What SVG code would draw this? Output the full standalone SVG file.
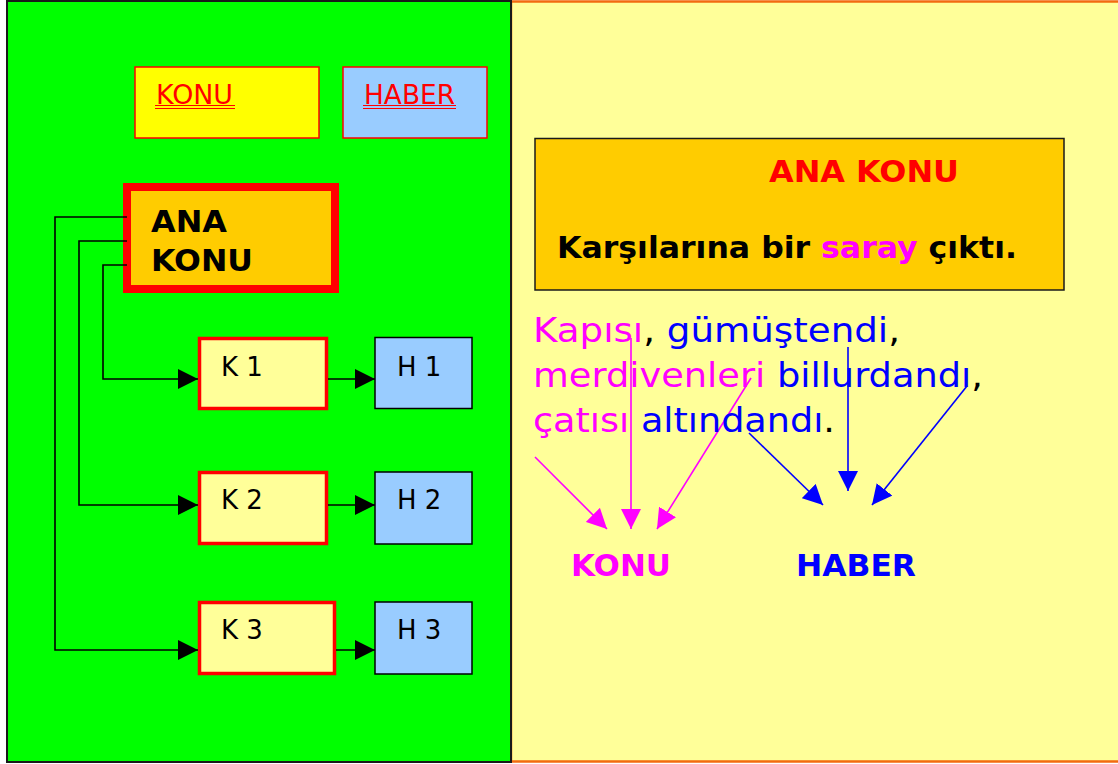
<svg xmlns="http://www.w3.org/2000/svg" width="1118" height="764" viewBox="0 0 1118 764">
<style>
.sans{font-family:"DejaVu Sans","Verdana",sans-serif}
.b{font-weight:bold}
.lbl{font-size:26px;fill:#000}
.red{fill:#FF0000}
.mag{fill:#FF00FF}
.blu{fill:#0000FF}
.blk{fill:#000}
.conn{stroke:#000;stroke-width:1.6;fill:none}
.kbox{fill:#FFFF99;stroke:#FF0000;stroke-width:3.5}
.hbox{fill:#99CCFF;stroke:#000;stroke-width:1.5}
.big{font-size:34px}
</style>
<defs>
<marker id="ah" markerUnits="userSpaceOnUse" markerWidth="20" markerHeight="20" refX="20" refY="10" orient="auto" viewBox="0 0 20 20"><path d="M0,0 L20,10 L0,20 Z" fill="#000"/></marker>
<marker id="ahm" markerUnits="userSpaceOnUse" markerWidth="20" markerHeight="20" refX="20" refY="10" orient="auto" viewBox="0 0 20 20"><path d="M0,0 L20,10 L0,20 Z" fill="#FF00FF"/></marker>
<marker id="ahb" markerUnits="userSpaceOnUse" markerWidth="20" markerHeight="20" refX="20" refY="10" orient="auto" viewBox="0 0 20 20"><path d="M0,0 L20,10 L0,20 Z" fill="#0000FF"/></marker>
</defs>
<g id="panels">
<rect x="511" y="1.5" width="620" height="760" fill="#FFFF99" stroke="#F26B10" stroke-width="2.5"/>
<rect x="7" y="1" width="504" height="761" fill="#00FF00" stroke="#1a1a1a" stroke-width="2"/>
</g>
<g id="konu-legend">
<rect x="135" y="67" width="184" height="71" fill="#FFFF00" stroke="#FF0000" stroke-width="1.5"/>
<text x="156" y="104" class="sans red" font-size="26.5" textLength="77" lengthAdjust="spacingAndGlyphs">KONU</text>
<line x1="155" y1="105.5" x2="235" y2="105.5" stroke="#FF0000" stroke-width="1"/>
<line x1="155" y1="108.5" x2="235" y2="108.5" stroke="#FF0000" stroke-width="1"/>
</g>
<g id="haber-legend">
<rect x="343" y="67" width="144" height="71" fill="#99CCFF" stroke="#FF0000" stroke-width="1.5"/>
<text x="364" y="104" class="sans red" font-size="26.5" textLength="91" lengthAdjust="spacingAndGlyphs">HABER</text>
<line x1="363" y1="105.5" x2="456" y2="105.5" stroke="#FF0000" stroke-width="1"/>
<line x1="363" y1="108.5" x2="456" y2="108.5" stroke="#FF0000" stroke-width="1"/>
</g>
<g id="ana-konu">
<rect x="127" y="187" width="208" height="102" fill="#FFCC00" stroke="#FF0000" stroke-width="8"/>
<text x="151" y="232" class="sans b blk" font-size="31" textLength="76" lengthAdjust="spacingAndGlyphs">ANA</text>
<text x="151" y="271" class="sans b blk" font-size="31" textLength="102" lengthAdjust="spacingAndGlyphs">KONU</text>
</g>
<g id="k1"><rect x="199.5" y="338.5" width="127" height="70" class="kbox"/><text x="221" y="376" class="sans lbl">K 1</text></g>
<g id="h1"><rect x="375" y="337.5" width="97" height="71" class="hbox"/><text x="397" y="376" class="sans lbl">H 1</text></g>
<g id="k2"><rect x="199.5" y="472.5" width="127" height="71" class="kbox"/><text x="221" y="509" class="sans lbl">K 2</text></g>
<g id="h2"><rect x="375" y="472" width="97" height="72" class="hbox"/><text x="397" y="509" class="sans lbl">H 2</text></g>
<g id="k3"><rect x="199.5" y="602.5" width="135" height="71" class="kbox"/><text x="221" y="639" class="sans lbl">K 3</text></g>
<g id="h3"><rect x="375" y="602" width="97" height="72" class="hbox"/><text x="397" y="639" class="sans lbl">H 3</text></g>
<g id="connectors">
<polyline class="conn" points="127,265 103,265 103,379 198,379" marker-end="url(#ah)"/>
<polyline class="conn" points="127,241 79,241 79,505 198,505" marker-end="url(#ah)"/>
<polyline class="conn" points="127,217 55,217 55,650 198,650" marker-end="url(#ah)"/>
<line class="conn" x1="328" y1="379" x2="375" y2="379" marker-end="url(#ah)"/>
<line class="conn" x1="328" y1="505" x2="375" y2="505" marker-end="url(#ah)"/>
<line class="conn" x1="336" y1="650" x2="375" y2="650" marker-end="url(#ah)"/>
<line class="conn" x1="847" y1="186" x2="847" y2="217" marker-end="url(#ah)"/>
<line x1="535" y1="457" x2="607" y2="529" stroke="#FF00FF" stroke-width="1.6" marker-end="url(#ahm)"/>
<line x1="631" y1="338" x2="631" y2="529" stroke="#FF00FF" stroke-width="1.6" marker-end="url(#ahm)"/>
<line x1="751" y1="378" x2="657" y2="529" stroke="#FF00FF" stroke-width="1.6" marker-end="url(#ahm)"/>
<line x1="749" y1="433" x2="823" y2="505" stroke="#0000FF" stroke-width="1.6" marker-end="url(#ahb)"/>
<line x1="848" y1="347" x2="848" y2="491" stroke="#0000FF" stroke-width="1.6" marker-end="url(#ahb)"/>
<line x1="967" y1="386" x2="872" y2="505" stroke="#0000FF" stroke-width="1.6" marker-end="url(#ahb)"/>
</g>
<g id="sentence-box">
<rect x="535" y="138.5" width="529" height="151.5" fill="#FFCC00" stroke="#1a1a1a" stroke-width="1.5"/>
<text x="769" y="182" class="sans b red" font-size="31" textLength="190" lengthAdjust="spacingAndGlyphs">ANA KONU</text>
<text x="557" y="258" class="sans b blk" font-size="30" textLength="460" lengthAdjust="spacingAndGlyphs">Karşılarına bir <tspan class="mag">saray</tspan> çıktı.</text>
</g>
<g id="example-text" class="sans big">
<text x="533" y="342" textLength="367" lengthAdjust="spacingAndGlyphs"><tspan class="mag">Kapısı</tspan><tspan class="blk">, </tspan><tspan class="blu">gümüştendi</tspan><tspan class="blk">,</tspan></text>
<text x="533" y="387" textLength="450" lengthAdjust="spacingAndGlyphs"><tspan class="mag">merdivenleri</tspan><tspan class="blu"> billurdandı</tspan><tspan class="blk">,</tspan></text>
<text x="533" y="432" textLength="302" lengthAdjust="spacingAndGlyphs"><tspan class="mag">çatısı</tspan><tspan class="blu"> altındandı</tspan><tspan class="blk">.</tspan></text>
</g>
<g id="konu-label"><text x="571" y="576" class="sans b mag" font-size="31" textLength="100" lengthAdjust="spacingAndGlyphs">KONU</text></g>
<g id="haber-label"><text x="796" y="576" class="sans b blu" font-size="31" textLength="120" lengthAdjust="spacingAndGlyphs">HABER</text></g>
</svg>
